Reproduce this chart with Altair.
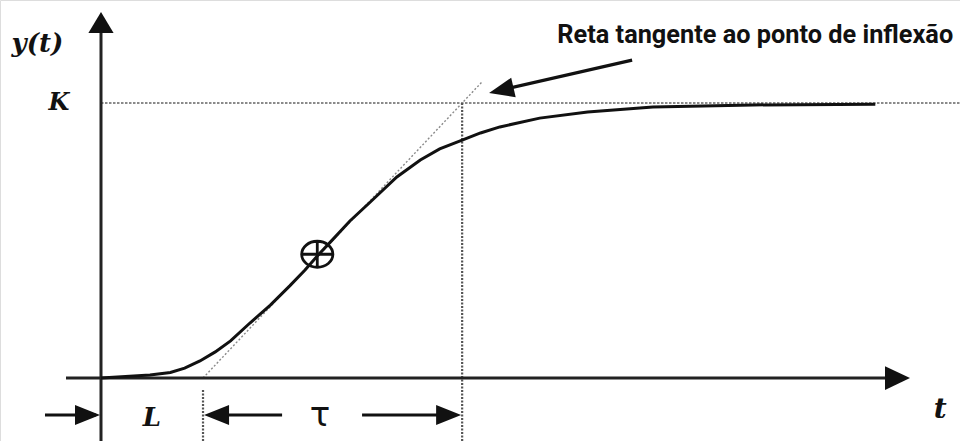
import altair as alt
import pandas as pd

# S-shaped step response y(t); t measured in units of the dead time L, y in units of K
t_vals = [0.0, 0.28, 0.48, 0.68, 0.82, 0.97, 1.12, 1.27, 1.46, 1.66, 1.85, 2.00, 2.12,
          2.25, 2.44, 2.64, 2.90, 3.13, 3.32, 3.54, 3.72, 3.91, 4.30, 4.77, 5.41, 6.39, 7.59]
y_vals = [0.0, 0.006, 0.011, 0.020, 0.036, 0.062, 0.095, 0.135, 0.200, 0.265, 0.335, 0.393, 0.444,
          0.495, 0.571, 0.640, 0.731, 0.793, 0.833, 0.865, 0.891, 0.913, 0.945, 0.967, 0.985, 0.993, 0.995]

K = 1.0            # final value
L = 1.0            # dead time
TAU = 2.54         # time constant
INFLEXION = [2.12, 0.45]
TANGENT_END_Y = 1.076

labels = ["y(t)", "K", "L", "τ", "t", "Reta tangente ao ponto de inflexão"]

X_DOMAIN = [-0.99, 8.42]
Y_DOMAIN = [-0.229, 1.3745]
xs = alt.Scale(domain=X_DOMAIN, nice=False, zero=False)
ys = alt.Scale(domain=Y_DOMAIN, nice=False, zero=False)

X = lambda f="x": alt.X(f"{f}:Q", scale=xs, axis=None)
Y = lambda f="y": alt.Y(f"{f}:Q", scale=ys, axis=None)


def segments(rows, **mark):
    df = pd.DataFrame(rows, columns=["x", "y", "x2", "y2"])
    return alt.Chart(df).mark_rule(**mark).encode(x=X(), y=Y(), x2="x2:Q", y2="y2:Q")


def texts(rows, **mark):
    df = pd.DataFrame(rows, columns=["x", "y", "label"])
    return alt.Chart(df).mark_text(**mark).encode(x=X(), y=Y(), text="label:N")


y_bottom, x_left, x_right = Y_DOMAIN[0], X_DOMAIN[0], X_DOMAIN[1]
t_end = L + TAU * TANGENT_END_Y
dim_y = -0.1345

# axes
axes = segments([[0, y_bottom, 0, 1.27], [-0.343, 0, 7.85, 0]],
                color="#222222", strokeWidth=3)

# reference lines
k_line = segments([[0, K, x_right, K]], color="#8a8a8a", strokeWidth=2, strokeDash=[2.5, 1.5])
verticals = segments([[L + TAU, K, L + TAU, y_bottom], [L, -0.044, L, y_bottom]],
                     color="#555555", strokeWidth=2.2, strokeDash=[2, 1.5])
tangent = segments([[L, 0, t_end, TANGENT_END_Y]], color="#8a8a8a", strokeWidth=1.4,
                   strokeDash=[2, 2])

# dimension arrows for L and tau, plus the pointer to the tangent line
arrow_lines = segments([[-0.549, dim_y, -0.05, dim_y],
                        [1.10, dim_y, 1.775, dim_y],
                        [2.559, dim_y, 3.45, dim_y],
                        [5.206, 1.156, 3.99, 1.053]],
                       color="#111111", strokeWidth=3.2)

AXIS_HEAD = "M0,0L-2,-1.2L-2,1.2Z"
XAXIS_HEAD = "M0,0L-2,-0.95L-2,0.95Z"
DIM_HEAD = "M0,0L-2,-0.8L-2,0.8Z"
heads_df = pd.DataFrame({
    "x": [0, 7.93, -0.01, 1.01, 3.53, 3.804],
    "y": [1.331, 0, dim_y, dim_y, dim_y, 1.036],
    "angle": [270, 0, 0, 180, 0, 167],
    "size": [441, 625, 625, 625, 625, 625],
    "shape": [AXIS_HEAD, XAXIS_HEAD, DIM_HEAD, DIM_HEAD, DIM_HEAD, DIM_HEAD],
})
heads = alt.Chart(heads_df).mark_point(filled=True, color="#111111", opacity=1,
                                       strokeWidth=0).encode(
    x=X(), y=Y(),
    angle=alt.Angle("angle:Q", scale=None),
    size=alt.Size("size:Q", scale=None),
    shape=alt.Shape("shape:N", scale=None),
)

# response curve
curve_df = pd.DataFrame({"x": t_vals, "y": y_vals})
curve = alt.Chart(curve_df).mark_line(color="#111111", strokeWidth=3).encode(
    x=X(), y=Y(), order="x:Q")

# inflexion point marker (slightly wide circle with a cross)
OPLUS = "M-1.2,0A1.2,1 0 1,1 1.2,0A1.2,1 0 1,1 -1.2,0ZM-1.2,0L1.2,0M0,-1L0,1"
marker = alt.Chart(pd.DataFrame({"x": [INFLEXION[0]], "y": [INFLEXION[1]]})).mark_point(
    shape=OPLUS, size=676, filled=False, color="#111111", strokeWidth=2.8, opacity=1
).encode(x=X(), y=Y())

math_font = dict(font="DejaVu Serif", fontWeight="bold", fontStyle="italic", color="#111111",
                 align="center", baseline="middle")
math_labels = (
    texts([[-0.623, 1.2145, labels[0]]], fontSize=26, **math_font)
    + texts([[-0.412, K, labels[1]]], fontSize=24, **math_font)
    + texts([[0.5, -0.147, labels[2]]], fontSize=26, **math_font)
    + texts([[8.225, -0.116, labels[4]]], fontSize=28, **math_font)
)
tau_label = texts([[2.147, -0.138, labels[3]]], font="DejaVu Sans", fontSize=34,
                  color="#111111", align="center", baseline="middle")
title_label = texts([[8.353, 1.247, labels[5]]], font="Roboto", fontWeight="bold",
                    fontSize=25.3, color="#111111", align="right", baseline="middle")

chart = alt.layer(
    k_line, tangent, verticals, axes, curve, marker, arrow_lines, heads,
    math_labels, tau_label, title_label,
).properties(
    width=960, height=441, padding=0, autosize=alt.AutoSizeParams(type="none")
).configure_view(stroke=None).configure(background="white")

chart.save("out.html", embed_options={"renderer": "svg", "actions": False})
